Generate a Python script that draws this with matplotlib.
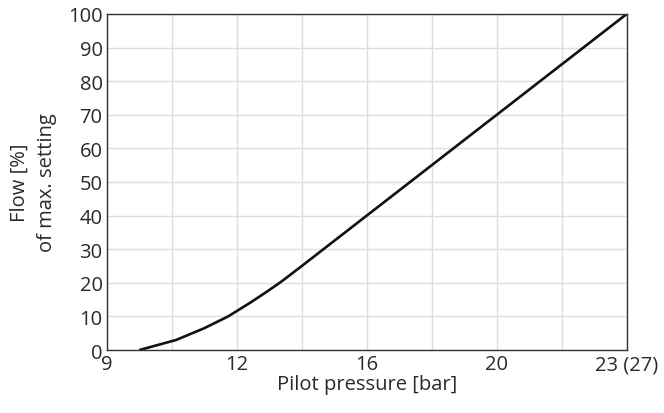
import numpy as np
import matplotlib
matplotlib.use("Agg")
import matplotlib.pyplot as plt

# x axis is schematic: labelled pressures sit on equally spaced grid lines
tick_bar = [9, 12, 16, 20, 23]
tick_labels = ["9", "12", "16", "20", "23 (27)"]
tick_pos = [0, 2, 4, 6, 8]
minor_bar = [10.5, 14, 18, 21.5]

# curve
pressure = [9.75, 10.6, 11.25, 11.8, 12.4, 12.9, 13.35, 14, 16, 20, 23]
flow = [0, 3, 6.5, 10, 14, 17.2, 20.2, 25, 40, 70, 100]

flow_ticks = list(range(0, 101, 10))


def fwd(x):
    return np.interp(x, tick_bar, tick_pos)


def inv(p):
    return np.interp(p, tick_pos, tick_bar)


plt.rcParams['font.family'] = ['Open Sans', 'DejaVu Sans']

fig = plt.figure(figsize=(6.64, 4.14), dpi=100)
ax = fig.add_axes([0.1607, 0.152, 0.7833, 0.812])
ax.set_xscale('function', functions=(fwd, inv))

ax.plot(pressure, flow, color='#111111', lw=1.9, solid_capstyle='butt')

ax.set_xlim(9, 23)
ax.set_ylim(0, 100)
ax.set_xticks(tick_bar)
ax.set_xticklabels(tick_labels)
ax.set_xticks(minor_bar, minor=True)
ax.set_yticks(flow_ticks)

ax.grid(True, which='both', color='#dedede', lw=1.0)
ax.set_axisbelow(True)
ax.tick_params(which='both', length=0, labelsize=14.5, colors='#2a2a2a', pad=3)

for s in ax.spines.values():
    s.set_color('#333333')
    s.set_linewidth(1.0)

ax.set_xlabel("Pilot pressure [bar]", fontsize=14.5, color='#2a2a2a', labelpad=0)
ax.set_ylabel("Flow [%]\nof max. setting", fontsize=14.5, color='#2a2a2a',
              labelpad=8, linespacing=1.45)

fig.savefig("out.png", dpi=100)
